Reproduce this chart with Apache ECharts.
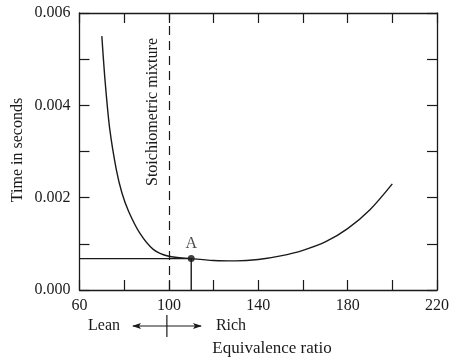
<!DOCTYPE html>
<html><head><meta charset="utf-8">
<script src="https://cdn.jsdelivr.net/npm/echarts@6/dist/echarts.min.js"></script>
<style>html,body{margin:0;padding:0;background:#fff}#c{width:452px;height:358px}</style>
</head><body><div id="c"></div>
<script>
var curveX = [70, 71.5, 73.5, 76.5, 79, 82, 87, 93, 100, 110, 120, 130, 140, 150, 160, 170, 180, 190, 200];
var curveY = [0.0055, 0.0045, 0.0035, 0.0026, 0.0021, 0.0017, 0.00123, 0.00088, 0.00073, 0.00068, 0.00064, 0.00063, 0.00066, 0.00074, 0.00086, 0.00104, 0.00133, 0.00174, 0.0023];
var pointA = [110, 0.00068];
var stoichX = 100;
var xTicks = [60, 100, 140, 180, 220];
var yTicks = [0, 0.002, 0.004, 0.006];
var FONT = '"Liberation Serif", "DejaVu Serif", serif';
var C = '#1a1a1a';

var chart = echarts.init(document.getElementById('c'), null, {renderer: 'canvas'});
var curveData = curveX.map(function (x, i) { return [x, curveY[i]]; });

function axisX(pos, show) {
  return {
    type: 'value', position: pos, min: 60, max: 220, interval: 20,
    axisLine: {show: true, onZero: false, lineStyle: {color: C, width: 1.3}},
    axisTick: {show: true, inside: true, length: 10, lineStyle: {color: C, width: 1.2}},
    axisLabel: {show: show, margin: 8, color: C, fontFamily: FONT, fontSize: 16,
      formatter: function (v) { return xTicks.indexOf(v) >= 0 ? String(v) : ''; }},
    splitLine: {show: false}
  };
}
function axisY(pos, show) {
  return {
    type: 'value', position: pos, min: 0, max: 0.006, interval: 0.001,
    axisLine: {show: true, onZero: false, lineStyle: {color: C, width: 1.3}},
    axisTick: {show: true, inside: true, length: 10, lineStyle: {color: C, width: 1.2}},
    axisLabel: {show: show, margin: 9, color: C, fontFamily: FONT, fontSize: 16,
      formatter: function (v) {
        for (var i = 0; i < yTicks.length; i++) if (Math.abs(v - yTicks[i]) < 1e-9) return yTicks[i].toFixed(3);
        return '';
      }},
    splitLine: {show: false}
  };
}

chart.setOption({
  animation: false,
  grid: {left: 79.5, right: 12, top: 13, bottom: 68},
  xAxis: [axisX('bottom', true), axisX('top', false)],
  yAxis: [axisY('left', true), axisY('right', false)],
  series: [
    {
      type: 'line', data: curveData, smooth: 0.3, showSymbol: false,
      lineStyle: {color: C, width: 1.4},
      markLine: {
        silent: true, symbol: 'none', label: {show: false},
        lineStyle: {color: C, type: [9, 6], width: 1.2},
        data: [{xAxis: stoichX}]
      }
    },
    {
      type: 'line', showSymbol: false,
      data: [[60, pointA[1]], [pointA[0], pointA[1]], [pointA[0], 0]],
      lineStyle: {color: C, width: 1.4}
    },
    {
      type: 'scatter', data: [pointA], symbolSize: 7,
      itemStyle: {color: '#111'},
      label: {show: true, formatter: 'A', position: 'top', distance: 3, color: C, fontFamily: FONT, fontSize: 16}
    }
  ]
});

var px = chart.convertToPixel({xAxisIndex: 0}, stoichX);
var g = [];
g.push({type: 'text', x: 18, y: 150, rotation: Math.PI / 2,
  style: {text: 'Time in seconds', fill: C, font: '16px ' + FONT, textAlign: 'center', textVerticalAlign: 'middle'}});
g.push({type: 'text', x: px - 16, y: 112, rotation: Math.PI / 2,
  style: {text: 'Stoichiometric mixture', fill: C, font: '16px ' + FONT, textAlign: 'center', textVerticalAlign: 'middle'}});
g.push({type: 'text', x: 104, y: 326,
  style: {text: 'Lean', fill: C, font: '16px ' + FONT, textAlign: 'center', textVerticalAlign: 'middle'}});
g.push({type: 'text', x: 231, y: 326,
  style: {text: 'Rich', fill: C, font: '16px ' + FONT, textAlign: 'center', textVerticalAlign: 'middle'}});
g.push({type: 'text', x: 272, y: 349,
  style: {text: 'Equivalence ratio', fill: C, font: '17px ' + FONT, textAlign: 'center', textVerticalAlign: 'middle'}});
g.push({type: 'line', shape: {x1: 133, y1: 326, x2: 201, y2: 326}, style: {stroke: C, lineWidth: 1.2}});
g.push({type: 'line', shape: {x1: px - 2, y1: 315, x2: px - 2, y2: 337}, style: {stroke: C, lineWidth: 1.2}});
g.push({type: 'polygon', shape: {points: [[132, 326], [141, 323], [139, 326], [141, 329]]}, style: {fill: C}});
g.push({type: 'polygon', shape: {points: [[202, 326], [193, 323], [195, 326], [193, 329]]}, style: {fill: C}});
chart.setOption({graphic: g});
</script></body></html>
